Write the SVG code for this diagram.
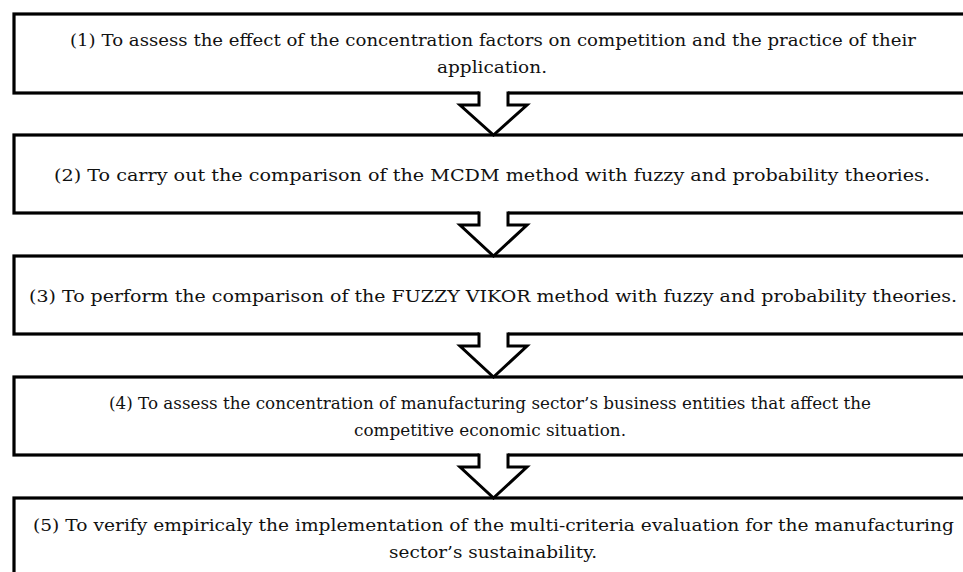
<svg xmlns="http://www.w3.org/2000/svg" width="963" height="572" viewBox="0 0 963 572">
<style>
.box{fill:#fff;stroke:#000;stroke-width:3.2}
.t{font-family:"DejaVu Serif","Liberation Serif",serif;font-size:17.5px;fill:#111;text-anchor:middle}
.s{font-size:16.5px}
.af{fill:#fff;stroke:none}
.as{fill:none;stroke:#000;stroke-width:3;stroke-linejoin:miter}
</style>
<rect width="963" height="572" fill="#fff"/>
<g id="node1">
<rect class="box" x="14" y="14" width="965" height="79"/>
<text class="t" x="493" y="46" textLength="846" lengthAdjust="spacingAndGlyphs">(1) To assess the effect of the concentration factors on competition and the practice of their</text>
<text class="t" x="492" y="73" textLength="110" lengthAdjust="spacingAndGlyphs">application.</text>
</g>
<g id="node2">
<rect class="box" x="14" y="135" width="965" height="78"/>
<text class="t" x="492" y="181" textLength="876" lengthAdjust="spacingAndGlyphs">(2) To carry out the comparison of the MCDM method with fuzzy and probability theories.</text>
</g>
<g id="node3">
<rect class="box" x="14" y="256" width="965" height="78"/>
<text class="t" x="493" y="302" textLength="928" lengthAdjust="spacingAndGlyphs">(3) To perform the comparison of the FUZZY VIKOR method with fuzzy and probability theories.</text>
</g>
<g id="node4">
<rect class="box" x="14" y="377" width="965" height="78"/>
<text class="t s" x="490" y="409" textLength="762" lengthAdjust="spacingAndGlyphs">(4) To assess the concentration of manufacturing sector’s business entities that affect the</text>
<text class="t s" x="490" y="436" textLength="272" lengthAdjust="spacingAndGlyphs">competitive economic situation.</text>
</g>
<g id="node5">
<rect class="box" x="14" y="498" width="965" height="100"/>
<text class="t" x="493.5" y="531" textLength="921" lengthAdjust="spacingAndGlyphs">(5) To verify empiricaly the implementation of the multi-criteria evaluation for the manufacturing</text>
<text class="t" x="493" y="558" textLength="208" lengthAdjust="spacingAndGlyphs">sector’s sustainability.</text>
</g>
<g id="connectors">
<g transform="translate(0,93)">
<polygon class="af" points="479,-2 508,-2 508,12 527,12 493.5,42 460,12 479,12"/>
<path class="as" d="M479,-1.5 V12 H460 L493.5,42 L527,12 H508 V-1.5"/>
</g>
<g transform="translate(0,213)">
<polygon class="af" points="479,-2 508,-2 508,12 527,12 493.5,43 460,12 479,12"/>
<path class="as" d="M479,-1.5 V12 H460 L493.5,43 L527,12 H508 V-1.5"/>
</g>
<g transform="translate(0,334)">
<polygon class="af" points="479,-2 508,-2 508,12 527,12 493.5,43 460,12 479,12"/>
<path class="as" d="M479,-1.5 V12 H460 L493.5,43 L527,12 H508 V-1.5"/>
</g>
<g transform="translate(0,455)">
<polygon class="af" points="479,-2 508,-2 508,12 527,12 493.5,43 460,12 479,12"/>
<path class="as" d="M479,-1.5 V12 H460 L493.5,43 L527,12 H508 V-1.5"/>
</g>
</g>
</svg>
